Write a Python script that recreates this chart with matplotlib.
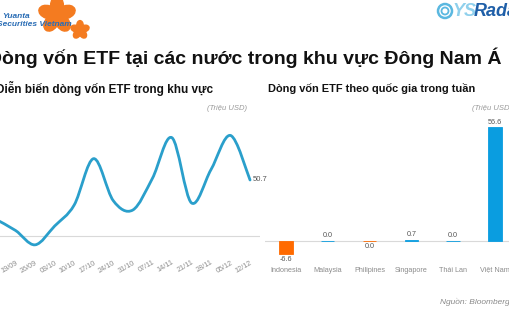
import math
import matplotlib
matplotlib.use("Agg")
import matplotlib.pyplot as plt
from matplotlib.path import Path
from matplotlib.patches import PathPatch, Ellipse, Circle

plt.rcParams['font.family'] = ['Liberation Sans', 'DejaVu Sans']

# weekly ETF flows in the region (million USD)
weeks = ['12/09', '19/09', '26/09', '03/10', '10/10', '17/10', '24/10',
         '31/10', '07/11', '14/11', '21/11', '28/11', '05/12', '12/12']
flows = [15, 5, -8, 9, 28, 70, 32, 23.5, 52, 89, 30, 60, 91, 50.7]

# flows by country this week
countries = ['Indonesia', 'Malaysia', 'Philipines', 'Singapore', 'Thái Lan', 'Việt Nam']
country_flows = [-6.6, 0.02, -0.03, 0.7, 0.02, 56.6]

W, H = 510, 310
fig = plt.figure(figsize=(5.1, 3.1), dpi=100)
fig.patch.set_facecolor('white')

def box(x0, y0, x1, y1):
    # pixel box (top-left origin) -> figure fraction rect
    return [x0 / W, 1 - y1 / H, (x1 - x0) / W, (y1 - y0) / H]

gray = '#8c8c8c'
line_col = '#2a9fcb'

# ---- left chart: smoothed line ----
ax1 = fig.add_axes(box(0, 115, 260, 255))
ax1.patch.set_visible(False)
xs = list(range(len(weeks)))
pts = list(zip(xs, flows))
verts = [pts[0]]
codes = [Path.MOVETO]
n = len(pts)
for i in range(n - 1):
    p0 = pts[max(i - 1, 0)]
    p1 = pts[i]
    p2 = pts[i + 1]
    p3 = pts[min(i + 2, n - 1)]
    c1 = (p1[0] + (p2[0] - p0[0]) / 6, p1[1] + (p2[1] - p0[1]) / 6)
    c2 = (p2[0] - (p3[0] - p1[0]) / 6, p2[1] - (p3[1] - p1[1]) / 6)
    verts += [c1, c2, p2]
    codes += [Path.CURVE4] * 3
ax1.add_patch(PathPatch(Path(verts, codes), facecolor='none', edgecolor=line_col,
                        lw=2, capstyle='round', joinstyle='round'))
ax1.axhline(0, color='#d9d9d9', lw=0.8, zorder=0)
ax1.set_xlim(0.205, 13.51)
ax1.set_ylim(-17.2, 109.5)
ax1.set_xticks(xs[1:])
ax1.set_xticklabels(weeks[1:], rotation=30, ha='right', rotation_mode='anchor',
                    fontsize=5.2, color=gray)
ax1.tick_params(axis='x', length=0, pad=3)
ax1.set_yticks([])
for s in ax1.spines.values():
    s.set_visible(False)
ax1.text(xs[-1] + 0.15, flows[-1], f'{flows[-1]:.1f}', fontsize=5.5,
         color='#555555', va='center', ha='left', clip_on=False)

# ---- right chart: bars by country ----
ax2 = fig.add_axes(box(265, 115, 510, 261))
ax2.patch.set_visible(False)
cols = ['#ff6a00' if v < 0 else '#0a9de0' for v in country_flows]
bx = list(range(len(countries)))
ax2.bar(bx, country_flows, width=0.32, color=cols, edgecolor=cols, linewidth=0.6, zorder=2)
ax2.axhline(0, color='#d9d9d9', lw=0.8, zorder=1)
ax2.set_xlim(-0.5, 5.36)
ax2.set_ylim(-9.9, 62.7)
ax2.set_xticks(bx)
ax2.set_xticklabels(countries, fontsize=5.2, color=gray)
ax2.tick_params(axis='x', length=0, pad=4)
ax2.set_yticks([])
for s in ax2.spines.values():
    s.set_visible(False)
for x, v in zip(bx, country_flows):
    lab = f'{v:.1f}'.replace('-0.0', '0.0')
    if v < 0:
        ax2.text(x, v - 0.8, lab, ha='center', va='top', fontsize=5.2, color='#555555')
    else:
        ax2.text(x, v + 0.8, lab, ha='center', va='bottom', fontsize=5.2, color='#555555')

# ---- titles and notes ----
fig.text(502 / W, 1 - 58 / H, 'Dòng vốn ETF tại các nước trong khu vực Đông Nam Á',
         fontsize=14.0, fontweight='bold', ha='right', va='center', color='#111111')
fig.text(213 / W, 1 - 88 / H, 'Diễn biến dòng vốn ETF trong khu vực',
         fontsize=8.5, fontweight='bold', ha='right', va='center', color='#111111')
fig.text(268 / W, 1 - 88 / H, 'Dòng vốn ETF theo quốc gia trong tuần',
         fontsize=7.9, fontweight='bold', ha='left', va='center', color='#111111')
fig.text(247 / W, 1 - 108 / H, '(Triệu USD)', fontsize=5.5, style='italic',
         color='#9a9a9a', ha='right', va='center')
fig.text(472 / W, 1 - 108 / H, '(Triệu USD)', fontsize=5.5, style='italic',
         color='#9a9a9a', ha='left', va='center')
fig.text(440 / W, 1 - 302 / H, 'Nguồn: Bloomberg', fontsize=6, style='italic',
         color='#8a8a8a', ha='left', va='center')

# ---- logos (approximate) ----
lg = fig.add_axes([0, 0, 1, 1], zorder=-1)
lg.set_xlim(0, W)
lg.set_ylim(H, 0)
lg.axis('off')
orange = '#f47b20'
for cx, cy, r in [(57, 15, 16), (80, 30, 8)]:
    for k in range(5):
        a = math.radians(90 + 72 * k)
        lg.add_patch(Ellipse((cx + r * 0.6 * math.cos(a), cy - r * 0.6 * math.sin(a)),
                             r * 0.8, r * 1.15, angle=-(72 * k), color=orange))
fig.text(2 / W, 1 - 17 / H, 'Yuanta', fontsize=6, style='italic', fontweight='bold',
         color='#2a6db5', ha='left', va='center')
fig.text(-3 / W, 1 - 24 / H, 'Securities Vietnam', fontsize=6, style='italic',
         fontweight='bold', color='#2a6db5', ha='left', va='center')
lg.add_patch(Circle((445, 11), 7, fill=False, ec='#5bb8e0', lw=1.8))
lg.add_patch(Circle((445, 11), 3.5, fill=False, ec='#5bb8e0', lw=1.3))
fig.text(452 / W, 1 - 12 / H, 'YS', fontsize=13, style='italic', fontweight='bold',
         color='#8fd0ec', ha='left', va='center')
fig.text(474 / W, 1 - 12 / H, 'Radar', fontsize=13, style='italic', fontweight='bold',
         color='#1f5fa8', ha='left', va='center')

fig.savefig('out.png', dpi=100, facecolor='white')
